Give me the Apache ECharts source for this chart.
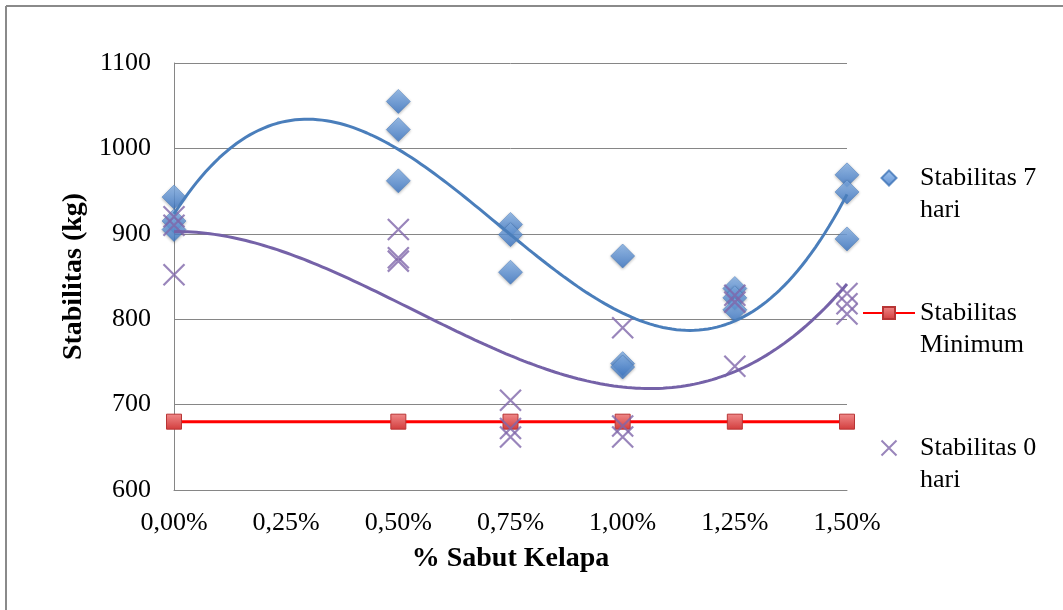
<!DOCTYPE html>
<html>
<head>
<meta charset="utf-8">
<script src="https://cdn.jsdelivr.net/npm/echarts@6/dist/echarts.min.js"></script>
<style>
html,body{margin:0;padding:0;background:#fff;}
#chart{width:1063px;height:610px;}
</style>
</head>
<body>
<div id="chart"></div>
<script>
// ---- data ----
const xTicks = [0, 0.25, 0.5, 0.75, 1.0, 1.25, 1.5];
const xTickLabels = ['0,00%', '0,25%', '0,50%', '0,75%', '1,00%', '1,25%', '1,50%'];
const yTicks = [600, 700, 800, 900, 1000, 1100];
const xPercent = [0, 0.5, 0.75, 1.0, 1.25, 1.5];
const stab7 = [[943, 915, 905], [1055, 1022, 962], [911, 899, 855], [874, 748, 744], [836, 825, 811], [969, 949, 894]];
const stab0 = [[920, 910, 852], [905, 872, 868], [705, 672, 662], [790, 675, 662], [828, 820, 745], [830, 818, 806]];
const stabMin = [680, 680, 680, 680, 680, 680];
const seriesNames = ['Stabilitas 7 hari', 'Stabilitas Minimum', 'Stabilitas 0 hari'];
const legendLines = {
  'Stabilitas 7 hari': ['Stabilitas 7', 'hari'],
  'Stabilitas Minimum': ['Stabilitas', 'Minimum'],
  'Stabilitas 0 hari': ['Stabilitas 0', 'hari']
};

function toPoints(groups) {
  const pts = [];
  groups.forEach((g, i) => g.forEach(v => pts.push([xPercent[i], v])));
  return pts;
}

// polynomial (order 3) least-squares trendline, as in the original spreadsheet
function polyFit(pts, order) {
  const n = order + 1;
  const A = [];
  for (let r = 0; r < n; r++) {
    A.push(new Array(n + 1).fill(0));
  }
  pts.forEach(([x, y]) => {
    for (let r = 0; r < n; r++) {
      for (let c = 0; c < n; c++) A[r][c] += Math.pow(x, r + c);
      A[r][n] += y * Math.pow(x, r);
    }
  });
  for (let i = 0; i < n; i++) {
    let p = i;
    for (let k = i + 1; k < n; k++) if (Math.abs(A[k][i]) > Math.abs(A[p][i])) p = k;
    [A[i], A[p]] = [A[p], A[i]];
    for (let k = i + 1; k < n; k++) {
      const f = A[k][i] / A[i][i];
      for (let c = i; c <= n; c++) A[k][c] -= f * A[i][c];
    }
  }
  const coef = new Array(n).fill(0);
  for (let i = n - 1; i >= 0; i--) {
    let s = A[i][n];
    for (let c = i + 1; c < n; c++) s -= A[i][c] * coef[c];
    coef[i] = s / A[i][i];
  }
  return coef;
}
function trendLine(pts) {
  const coef = polyFit(pts, 3);
  const out = [];
  const x0 = xPercent[0], x1 = xPercent[xPercent.length - 1];
  for (let k = 0; k <= 150; k++) {
    const x = x0 + (x1 - x0) * k / 150;
    let y = 0;
    coef.forEach((c, i) => { y += c * Math.pow(x, i); });
    out.push([x, y]);
  }
  return out;
}

const pts7 = toPoints(stab7);
const pts0 = toPoints(stab0);
const ptsMin = xPercent.map((x, i) => [x, stabMin[i]]);

const serif = '"Liberation Serif", "Times New Roman", serif';
const xPath = 'path://M0,0L20,20M20,0L0,20';
const diamondPath = 'path://M10,0L20,10L10,20L0,10Z';

const chart = echarts.init(document.getElementById('chart'));
chart.setOption({
  backgroundColor: '#ffffff',
  animation: false,
  graphic: [
    { type: 'line', shape: { x1: 6, y1: 6, x2: 1063, y2: 6 }, style: { stroke: '#8a8a8a', lineWidth: 2 } },
    { type: 'line', shape: { x1: 6, y1: 6, x2: 6, y2: 610 }, style: { stroke: '#8a8a8a', lineWidth: 2 } }
  ],
  grid: { left: 174, right: 216, top: 63, bottom: 120, containLabel: false },
  legend: {
    orient: 'vertical',
    left: 857,
    top: 125,
    itemWidth: 52,
    itemHeight: 15,
    itemGap: 39,
    symbolKeepAspect: true,
    data: seriesNames,
    formatter: name => '\u00a0\n' + legendLines[name].join('\n'),
    textStyle: { fontFamily: serif, fontSize: 26, lineHeight: 32, color: '#000' }
  },
  xAxis: {
    type: 'value',
    min: 0, max: 1.5, interval: 0.25,
    name: '% Sabut Kelapa',
    nameLocation: 'middle',
    nameGap: 55,
    nameTextStyle: { fontFamily: serif, fontSize: 28, fontWeight: 'bold', color: '#000' },
    axisLine: { show: true, lineStyle: { color: '#868686', width: 1 } },
    axisTick: { show: false },
    splitLine: { show: false },
    axisLabel: {
      margin: 20,
      fontFamily: serif, fontSize: 26, color: '#000',
      formatter: v => {
        const i = xTicks.findIndex(t => Math.abs(t - v) < 1e-9);
        return i >= 0 ? xTickLabels[i] : '';
      }
    }
  },
  yAxis: {
    type: 'value',
    min: yTicks[0], max: yTicks[yTicks.length - 1], interval: 100,
    name: 'Stabilitas (kg)',
    nameLocation: 'middle',
    nameGap: 68,
    nameTextStyle: { fontFamily: serif, fontSize: 28, fontWeight: 'bold', color: '#000' },
    axisLine: { show: true, lineStyle: { color: '#868686', width: 1 } },
    axisTick: { show: false },
    splitLine: { show: true, lineStyle: { color: '#868686', width: 1 } },
    axisLabel: { margin: 23, fontFamily: serif, fontSize: 26, color: '#000', formatter: v => String(v) }
  },
  series: [
    {
      name: seriesNames[0], type: 'scatter', data: pts7,
      symbol: diamondPath, symbolSize: 24, z: 3,
      itemStyle: {
        color: new echarts.graphic.LinearGradient(0, 0, 0, 1, [
          { offset: 0, color: '#8bb8ee' }, { offset: 1, color: '#3a76c6' }
        ]),
        borderColor: '#3f74b8', borderWidth: 0.6,
        shadowBlur: 3, shadowColor: 'rgba(0,0,0,0.35)', shadowOffsetY: 1
      }
    },
    {
      name: seriesNames[1], type: 'line', data: ptsMin,
      symbol: 'rect', symbolSize: 15, z: 4,
      lineStyle: { color: '#ff0000', width: 3 },
      itemStyle: {
        color: new echarts.graphic.LinearGradient(0, 0, 0, 1, [
          { offset: 0, color: '#f08a8a' }, { offset: 1, color: '#d23c3c' }
        ]),
        borderColor: '#b83535', borderWidth: 1
      }
    },
    {
      name: seriesNames[2], type: 'scatter', data: pts0,
      symbol: xPath, symbolSize: 21, z: 5,
      itemStyle: { color: 'rgba(0,0,0,0)', borderColor: '#7f66aa', borderWidth: 2.2 }
    },
    {
      name: 'trend7', type: 'line', data: trendLine(pts7), showSymbol: false, symbol: 'none',
      smooth: false, z: 6, silent: true,
      lineStyle: { color: '#4a7ebb', width: 3 }
    },
    {
      name: 'trend0', type: 'line', data: trendLine(pts0), showSymbol: false, symbol: 'none',
      smooth: false, z: 6, silent: true,
      lineStyle: { color: '#7562a8', width: 3 }
    }
  ]
});
</script>
</body>
</html>
